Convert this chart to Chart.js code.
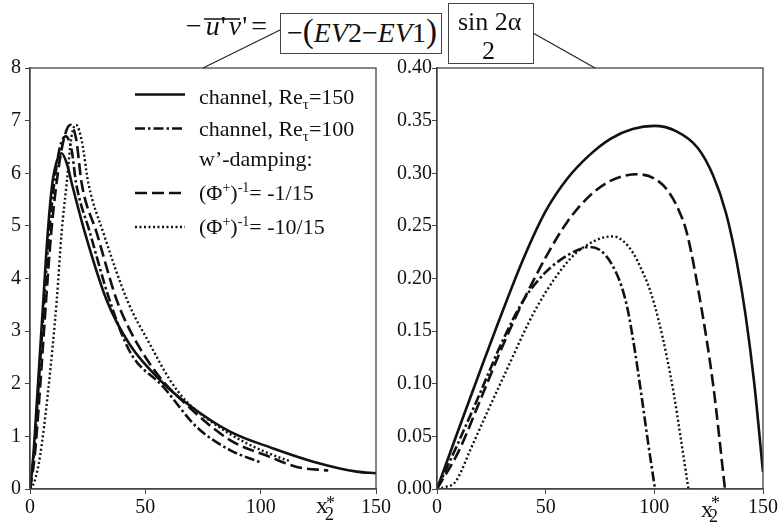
<!DOCTYPE html>
<html lang="en">
<head>
<meta charset="UTF-8" />
<title>Reynolds shear stress decomposition</title>
<script src="https://cdn.jsdelivr.net/npm/chart.js"></script>
<style>
  body { margin:0; background:#fff; }
  #wrap { position:relative; width:779px; height:527px; background:#fff; font-family:'Liberation Serif','Times New Roman',serif; color:#111; overflow:hidden; }
  #wrap canvas, #wrap svg { position:absolute; left:0; top:0; }
  .t { position:absolute; white-space:nowrap; }
  .box { position:absolute; border:1.5px solid #444; background:#fff; box-sizing:border-box; }
  .leg { font-size:22px; line-height:22px; }
  .leg sub { font-size:15px; vertical-align:-5px; line-height:0; }
  .leg sup { font-size:14px; vertical-align:8px; line-height:0; }
</style>
</head>
<body>
<div id="wrap">
  <canvas id="leftChart" width="779" height="527"></canvas>
  <canvas id="rightChart" width="779" height="527"></canvas>

  <svg width="779" height="527">
    <!-- overline and connectors of the formula -->
    <line x1="204" y1="19" x2="240" y2="19" stroke="#111" stroke-width="1.5" />
    <line x1="280" y1="30" x2="203" y2="68" stroke="#222" stroke-width="1.2" />
    <line x1="533" y1="33" x2="595" y2="68" stroke="#222" stroke-width="1.2" />
    <line x1="458" y1="35" x2="522" y2="35" stroke="#111" stroke-width="1.5" />
    <!-- legend samples -->
    <line x1="135" y1="94.5" x2="185" y2="94.5" stroke="#111" stroke-width="2.6" />
    <line x1="135" y1="128.5" x2="185" y2="128.5" stroke="#111" stroke-width="2.6" stroke-dasharray="10 3 2.5 3" />
    <line x1="135" y1="193" x2="185" y2="193" stroke="#111" stroke-width="2.6" stroke-dasharray="12 5" />
    <line x1="135" y1="227" x2="185" y2="227" stroke="#111" stroke-width="2.4" stroke-dasharray="2 2.5" />
  </svg>

  <div class="t" style="left:186px;top:12px;font-size:28px;line-height:28px;">&minus;<span style="margin-left:4px;"><i>u</i></span><span style="margin:0 3px 0 1px;">'</span><i>v</i><span style="margin-left:1px;">'</span><span style="margin-left:4px;">=</span></div>
  <div class="box" style="left:280px;top:13px;width:162px;height:41px;">
    <div class="t" style="left:6px;top:3px;font-size:28px;line-height:28px;">&minus;<span style="font-size:33px;">(</span><i>EV</i>2&minus;<i>EV</i>1<span style="font-size:33px;">)</span></div>
  </div>
  <div class="box" style="left:448px;top:3px;width:86px;height:61px;">
    <div class="t" style="left:9px;top:5px;font-size:26px;line-height:26px;">sin 2&alpha;</div>
    <div class="t" style="left:33px;top:34px;font-size:26px;line-height:26px;">2</div>
  </div>

  <div class="t leg" style="left:199px;top:86px;">channel, Re<sub>&tau;</sub>=150</div>
  <div class="t leg" style="left:199px;top:118px;">channel, Re<sub>&tau;</sub>=100</div>
  <div class="t leg" style="left:199px;top:148px;">w&rsquo;-damping:</div>
  <div class="t leg" style="left:199px;top:182px;">(&Phi;<sup>+</sup>)<sup>-1</sup>= -1/15</div>
  <div class="t leg" style="left:199px;top:216px;">(&Phi;<sup>+</sup>)<sup>-1</sup>= -10/15</div>

  <div class="t" style="left:316px;top:493px;font-size:24px;line-height:24px;">x</div>
  <div class="t" style="left:325px;top:505px;font-size:18px;line-height:18px;">2</div>
  <div class="t" style="left:326px;top:494px;font-size:18px;line-height:18px;">*</div>

  <div class="t" style="left:701px;top:497px;font-size:24px;line-height:24px;">x</div>
  <div class="t" style="left:709px;top:507px;font-size:18px;line-height:18px;">2</div>
  <div class="t" style="left:711px;top:494px;font-size:18px;line-height:18px;">*</div>
</div>

<script>
  // tick labels
  const xTicks = [0, 50, 100, 150];
  const leftYTicks = [0, 1, 2, 3, 4, 5, 6, 7, 8];
  const rightYTicks = [0, 0.05, 0.10, 0.15, 0.20, 0.25, 0.30, 0.35, 0.40];

  // left panel: -u'v'
  const lSolidX = [0, 1.4, 3.3, 5.8, 7.7, 9.7, 12, 13.7, 16, 18.1, 23.8, 33.2, 43.3, 57.8, 67.9, 86.7, 105.5, 122.8, 141.6, 150];
  const lSolidY = [0, 0.61, 1.88, 3.6, 4.87, 5.81, 6.28, 6.38, 6.18, 5.81, 4.87, 3.59, 2.74, 2.01, 1.63, 1.09, 0.77, 0.52, 0.33, 0.30];

  const lDashDotX = [0, 1.6, 3.6, 6.2, 8.3, 10.5, 13, 15.5, 18, 20, 26, 34.5, 43.3, 57.8, 72.2, 86.7, 99.7];
  const lDashDotY = [0, 0.61, 1.88, 3.6, 4.87, 5.81, 6.5, 6.7, 6.45, 5.81, 4.87, 3.59, 2.61, 1.94, 1.18, 0.74, 0.51];

  const lDashedX = [0, 2.0, 4.3, 7.0, 9.2, 11.5, 14.5, 17.5, 20, 22.4, 28.9, 37.6, 43.3, 54.9, 67.9, 86.7, 104, 115.6, 129.3];
  const lDashedY = [0, 0.61, 1.88, 3.6, 4.87, 5.81, 6.62, 6.92, 6.65, 5.81, 4.87, 3.59, 3.02, 2.20, 1.60, 0.93, 0.61, 0.42, 0.35];

  const lDottedX = [0, 2, 4.3, 7.9, 11.6, 13.7, 15.9, 18, 20, 22.5, 25.3, 31.8, 42.5, 52, 60.7, 67.9, 79.5, 93.9, 111.3, 113];
  const lDottedY = [0, 0.15, 0.61, 1.88, 3.59, 4.87, 5.81, 6.7, 6.92, 6.6, 5.81, 4.87, 3.55, 2.75, 2.07, 1.66, 1.25, 0.87, 0.55, 0.53];

  // right panel: -(EV2-EV1) sin2a/2
  const rSolidX = [0, 10, 20, 30, 40, 50, 60, 70, 80, 90, 100, 110, 120, 127, 133, 138, 142, 146, 150];
  const rSolidY = [0, 0.057, 0.113, 0.168, 0.220, 0.264, 0.295, 0.317, 0.333, 0.342, 0.345, 0.340, 0.324, 0.298, 0.262, 0.215, 0.165, 0.100, 0.016];

  const rDashDotX = [0, 10, 20, 30, 40, 50, 60, 66, 70, 75, 80, 85, 88, 91, 94, 97, 100.3];
  const rDashDotY = [0, 0.045, 0.092, 0.140, 0.180, 0.206, 0.222, 0.228, 0.230, 0.227, 0.215, 0.192, 0.168, 0.132, 0.090, 0.046, 0.0];

  const rDashedX = [0, 10, 20, 30, 40, 50, 60, 70, 80, 92, 100, 106, 111, 115, 121, 127, 132.5];
  const rDashedY = [0, 0.036, 0.085, 0.135, 0.180, 0.220, 0.254, 0.278, 0.293, 0.299, 0.295, 0.284, 0.266, 0.243, 0.180, 0.100, 0.0];

  const rDottedX = [0, 4, 7.7, 10, 15.3, 30.7, 46, 61.4, 70, 76.7, 81.1, 86, 90.3, 94, 98, 102, 105.7, 109, 111.8, 115.7];
  const rDottedY = [0, 0.002, 0.005, 0.012, 0.037, 0.107, 0.173, 0.219, 0.233, 0.239, 0.240, 0.235, 0.224, 0.209, 0.189, 0.160, 0.126, 0.090, 0.053, 0.0];

  Chart.defaults.font.family = "'Liberation Serif','Times New Roman',serif";
  Chart.defaults.font.size = 20;
  Chart.defaults.color = '#111';

  function pts(xs, ys) { return xs.map((x, i) => ({ x: x, y: ys[i] })); }

  function line(xs, ys, dash, width) {
    return {
      data: pts(xs, ys),
      borderColor: '#111',
      borderWidth: width || 2.6,
      borderDash: dash,
      pointRadius: 0,
      fill: false,
      cubicInterpolationMode: 'monotone'
    };
  }

  const frame = {
    id: 'frame',
    afterDraw(chart) {
      const a = chart.chartArea, ctx = chart.ctx;
      ctx.save();
      ctx.strokeStyle = '#444';
      ctx.lineWidth = 1.3;
      ctx.strokeRect(a.left, a.top, a.right - a.left, a.bottom - a.top);
      ctx.restore();
    }
  };

  function makeChart(id, datasets, yTicks, yFmt, pad, yWidth, yPad) {
    new Chart(document.getElementById(id), {
      type: 'line',
      data: { datasets: datasets },
      options: {
        responsive: false,
        animation: false,
        layout: { padding: pad },
        plugins: { legend: { display: false }, tooltip: { enabled: false } },
        scales: {
          x: {
            type: 'linear', min: 0, max: 150,
            afterBuildTicks: s => { s.ticks = xTicks.map(v => ({ value: v })); },
            afterFit: s => { s.height = 38; s.paddingLeft = 0; s.paddingRight = 0; },
            ticks: { padding: 2, maxRotation: 0 },
            grid: { drawOnChartArea: false, tickLength: 5, color: '#444' },
            border: { color: '#444', width: 1.3 }
          },
          y: {
            type: 'linear', min: yTicks[0], max: yTicks[yTicks.length - 1],
            afterBuildTicks: s => { s.ticks = yTicks.map(v => ({ value: v })); },
            afterFit: s => { s.width = yWidth; s.paddingTop = 0; s.paddingBottom = 0; },
            ticks: { padding: yPad, callback: yFmt },
            grid: { drawOnChartArea: false, tickLength: 5, color: '#444' },
            border: { color: '#444', width: 1.3 }
          }
        }
      },
      plugins: [frame]
    });
  }

  makeChart('leftChart', [
    line(lSolidX, lSolidY, []),
    line(lDashDotX, lDashDotY, [10, 3, 2.5, 3]),
    line(lDashedX, lDashedY, [12, 5]),
    line(lDottedX, lDottedY, [2, 2.5], 2.4)
  ], leftYTicks, v => String(v), { left: 0, top: 68, right: 403, bottom: 0 }, 30, 4);

  makeChart('rightChart', [
    line(rSolidX, rSolidY, []),
    line(rDashDotX, rDashDotY, [10, 3, 2.5, 3]),
    line(rDashedX, rDashedY, [12, 5]),
    line(rDottedX, rDottedY, [2, 2.5], 2.4)
  ], rightYTicks, v => v.toFixed(2), { left: 390, top: 68, right: 16, bottom: 0 }, 47, 0);
</script>
</body>
</html>
